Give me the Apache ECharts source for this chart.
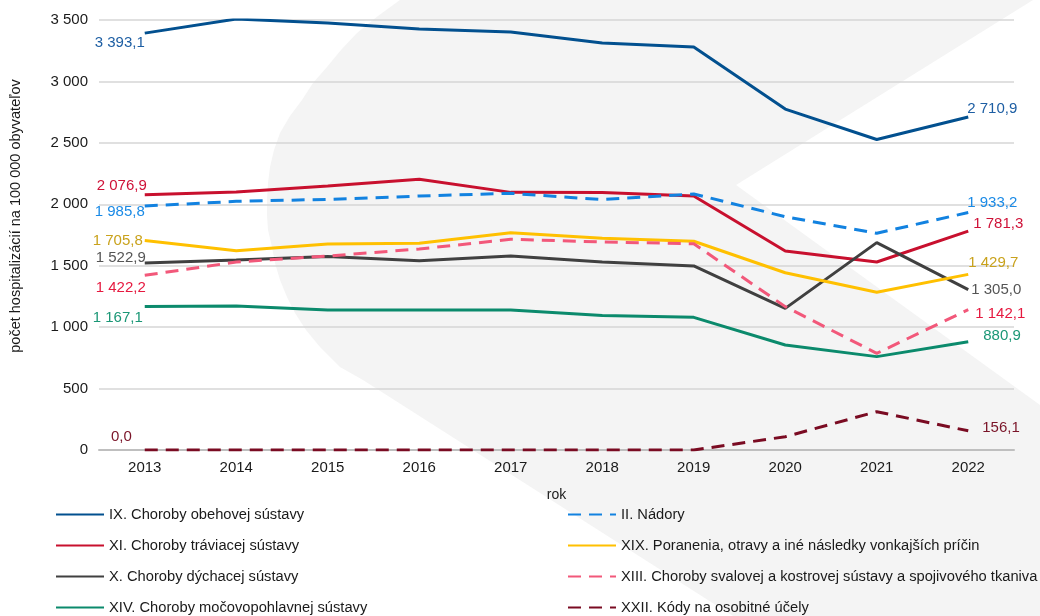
<!DOCTYPE html>
<html>
<head>
<meta charset="utf-8">
<script src="https://cdn.jsdelivr.net/npm/echarts@6/dist/echarts.min.js"></script>
<style>html,body{margin:0;padding:0;background:#fff}#c{width:1040px;height:616px}</style>
</head>
<body>
<div id="c"></div>
<script>
const years = ['2013','2014','2015','2016','2017','2018','2019','2020','2021','2022'];
const yTicks = [0, 500, 1000, 1500, 2000, 2500, 3000, 3500];

const nameIX = 'IX. Choroby obehovej sústavy';
const nameXI = 'XI. Choroby tráviacej sústavy';
const nameX = 'X. Choroby dýchacej sústavy';
const nameXIV = 'XIV. Choroby močovopohlavnej sústavy';
const nameII = 'II. Nádory';
const nameXIX = 'XIX. Poranenia, otravy a iné následky vonkajších príčin';
const nameXIII = 'XIII. Choroby svalovej a kostrovej sústavy a spojivového tkaniva';
const nameXXII = 'XXII. Kódy na osobitné účely';

const valIX   = [3393.1, 3508, 3475, 3426, 3402, 3312, 3280, 2775, 2527, 2710.9];
const valXI   = [2076.9, 2100, 2149, 2203, 2097, 2096, 2067, 1620, 1530, 1781.3];
const valII   = [1985.8, 2024, 2040, 2067, 2089, 2038, 2084, 1899, 1764, 1933.2];
const valXIX  = [1705.8, 1622, 1677, 1682, 1769, 1723, 1699, 1443, 1284, 1429.7];
const valX    = [1522.9, 1547, 1574, 1541, 1579, 1530, 1498, 1153, 1688, 1305.0];
const valXIII = [1422.2, 1530, 1579, 1636, 1715, 1693, 1679, 1167, 787, 1142.1];
const valXIV  = [1167.1, 1172, 1140, 1140, 1140, 1094, 1080, 855, 760, 880.9];
const valXXII = [0, 0, 0, 0, 0, 0, 0, 108, 312, 156.1];

function fmtNum(v, dec) {
  const s = Number(v).toFixed(dec);
  const parts = s.split('.');
  const int = parts[0].replace(/\B(?=(\d{3})+(?!\d))/g, ' ');
  return parts.length > 1 ? int + ',' + parts[1] : int;
}

// style config (kept separate from data)
const styles = [
  {name: nameIX,   vals: valIX,   color: '#02508f', lab: '#1d5ea3', dash: 'solid', first: [0, 10],  last: [-1, -8]},
  {name: nameXI,   vals: valXI,   color: '#c8102e', lab: '#cf1238', dash: 'solid', first: [2, -9],  last: [5, -7]},
  {name: nameX,    vals: valX,    color: '#404040', lab: '#555555', dash: 'solid', first: [1, -5],  last: [3, 0]},
  {name: nameXIV,  vals: valXIV,  color: '#0b8a6c', lab: '#1b9776', dash: 'solid', first: [-2, 11], last: [15, -6]},
  {name: nameII,   vals: valII,   color: '#1282e0', lab: '#1a8ae6', dash: [13, 8], first: [0, 6],   last: [-1, -10]},
  {name: nameXIX,  vals: valXIX,  color: '#ffc000', lab: '#c9a21c', dash: 'solid', first: [-2, 0], last: [0, -11]},
  {name: nameXIII, vals: valXIII, color: '#f2587a', lab: '#e6193f', dash: [13, 8], first: [1, 13],  last: [7, 4]},
  {name: nameXXII, vals: valXXII, color: '#7a0b22', lab: '#7a1428', dash: [13, 8], first: [-13, -13], last: [14, -3]}
];

const series = styles.map(s => ({
  name: s.name,
  type: 'line',
  symbol: 'circle',
  symbolSize: 0.01,
  showSymbol: true,
  smooth: false,
  lineStyle: {color: s.color, width: 3, type: s.dash},
  itemStyle: {color: s.color},
  emphasis: {disabled: true},
  labelLayout: function (p) {
    const o = p.dataIndex === 0 ? s.first : s.last;
    return {dx: o[0], dy: o[1], hideOverlap: false};
  },
  data: s.vals.map((v, i) => {
    if (i === 0) return {value: v, label: {show: true, position: 'left', distance: 0}};
    if (i === s.vals.length - 1) return {value: v, label: {show: true, position: 'right', distance: 0}};
    return v;
  }),
  label: {
    show: false,
    color: s.lab,
    fontFamily: 'Liberation Sans',
    fontSize: 15,
    formatter: p => fmtNum(p.value, 1)
  }
}));

// decorative background shape (not data)
const bgPts = [
  [400,0],[1033,0],[736,185],[1040,405],[1040,616],[733,616],[363,380],
  [340,367],[320,347],[306,330],[295,313],[287,297],[280,280],[275,263],[272,247],
  [268,230],[267,215],[267,200],[268,183],[270,167],[274,150],[280,133],[290,116],
  [302,100],[313,83],[327,67],[341,50],[357,33],[378,16]
];

const legendCommon = {
  orient: 'vertical', top: 502, height: 140,
  itemWidth: 48, itemHeight: 14, itemGap: 16,
  itemStyle: {opacity: 0},
  textStyle: {fontSize: 14.7, color: '#1a1a1a', fontFamily: 'Liberation Sans'}
};

const chart = echarts.init(document.getElementById('c'));
chart.setOption({
  animation: false,
  backgroundColor: '#ffffff',
  textStyle: {fontFamily: 'Liberation Sans'},
  graphic: [{
    type: 'polygon',
    z: -10,
    silent: true,
    shape: {points: bgPts},
    style: {fill: '#f4f4f4'}
  }],
  grid: {left: 99, right: 26, top: 20, bottom: 166, containLabel: false},
  legend: [
    Object.assign({data: [nameIX, nameXI, nameX, nameXIV], left: 50}, legendCommon),
    Object.assign({data: [nameII, nameXIX, nameXIII, nameXXII], left: 562}, legendCommon)
  ],
  xAxis: {
    type: 'category',
    data: years,
    boundaryGap: true,
    name: 'rok',
    nameLocation: 'middle',
    nameGap: 38,
    nameTextStyle: {fontSize: 14, color: '#1a1a1a'},
    axisLine: {lineStyle: {color: '#bfbfbf', width: 2}},
    axisTick: {show: false},
    axisLabel: {fontSize: 15, color: '#1a1a1a', margin: 10}
  },
  yAxis: {
    type: 'value',
    min: yTicks[0],
    max: yTicks[yTicks.length - 1],
    interval: 500,
    name: 'počet hospitalizácií na 100 000 obyvateľov',
    nameLocation: 'middle',
    nameGap: 76,
    nameTextStyle: {fontSize: 14.5, color: '#1a1a1a', padding: [0, 0, 0, 38]},
    axisLine: {show: false},
    axisTick: {show: false},
    splitLine: {lineStyle: {color: '#d6d6d6', width: 1.5}},
    axisLabel: {fontSize: 15, color: '#1a1a1a', margin: 11, formatter: v => fmtNum(v, 0)}
  },
  series: series
});
</script>
</body>
</html>
